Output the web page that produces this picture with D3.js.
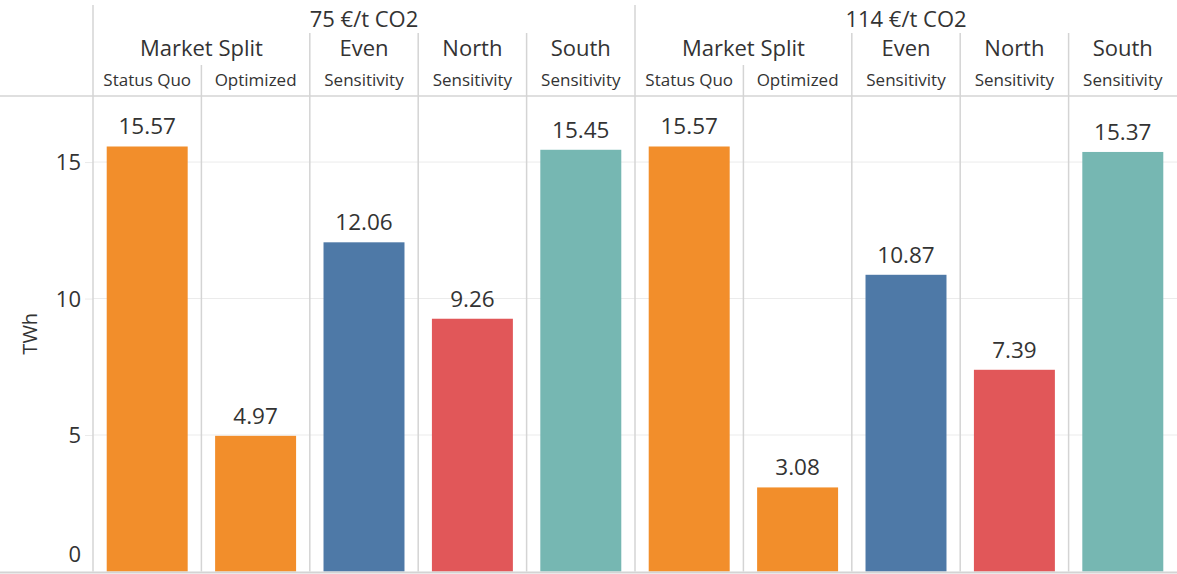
<!DOCTYPE html>
<html lang="en">
<head>
    <meta charset="UTF-8"/>
    <title>CO2 price scenarios</title>
    <script src="https://d3js.org/d3.v7.min.js" charset="utf-8"></script>
    <style type="text/css">
        body { margin: 0; background: #fff; }
        text { font-family: "Open Sans", sans-serif; fill: #333; }
        .grid line { stroke: #ebebeb; }
        .div-line { stroke: #d4d4d4; stroke-width: 1.5px; }
    </style>
</head>
<body>
<svg width="1177" height="574"></svg>
<script>
    // data
    const prices = ["75 €/t CO2", "114 €/t CO2"];
    const groups = ["Market Split", "Even", "North", "South"];
    const scenarios = ["Status Quo", "Optimized", "Sensitivity", "Sensitivity", "Sensitivity"];
    const scenarioGroup = [0, 0, 1, 2, 3];
    const values75 = [15.57, 4.97, 12.06, 9.26, 15.45];
    const values114 = [15.57, 3.08, 10.87, 7.39, 15.37];
    const yTicks = [0, 5, 10, 15];
    const colors = ["#f28e2b", "#f28e2b", "#4e79a7", "#e15759", "#76b7b2"];

    const rows = [];
    [values75, values114].forEach(function(vals, p) {
        vals.forEach(function(v, i) {
            rows.push({ key: p + "-" + i, price: p, idx: i, value: v });
        });
    });

    const svg = d3.select("svg"),
        plotLeft = 93, plotRight = 1177, plotTop = 96, plotBottom = 571.5;

    const x = d3.scaleBand()
        .domain(rows.map(d => d.key))
        .range([plotLeft, plotRight])
        .paddingInner(0.253)
        .paddingOuter(0.1265);
    const step = x.step();
    const cellX = k => x(k) - step * 0.1265;

    const y = d3.scaleLinear().domain([0, 17.42]).range([plotBottom, plotTop]);

    // gridlines
    svg.append("g").attr("class", "grid")
        .selectAll("line").data(yTicks.slice(1)).enter().append("line")
        .attr("x1", plotLeft).attr("x2", plotRight)
        .attr("y1", d => y(d)).attr("y2", d => y(d));

    // axis
    const axis = svg.append("g")
        .attr("transform", "translate(" + plotLeft + ",0)")
        .call(d3.axisLeft(y).tickValues(yTicks).tickSize(8).tickPadding(4));
    axis.select(".domain").remove();
    axis.selectAll(".tick line").attr("stroke", "#ebebeb");
    axis.selectAll(".tick text")
        .style("font-size", "22px").attr("fill", "#333")
        .attr("dy", d => d === 0 ? "-0.45em" : "0.35em");
    axis.selectAll(".tick").filter(d => d === 0).select("line").remove();

    svg.append("text")
        .attr("transform", "translate(30," + ((plotTop + plotBottom) / 2) + ") rotate(-90)")
        .attr("text-anchor", "middle").attr("dy", "0.35em")
        .style("font-size", "20px")
        .text("TWh");

    // column dividers in plot area
    svg.append("g").selectAll("line").data(rows.slice(1)).enter().append("line")
        .attr("class", "div-line")
        .attr("x1", d => cellX(d.key)).attr("x2", d => cellX(d.key))
        .attr("y1", plotTop).attr("y2", plotBottom);

    // bars
    svg.append("g").selectAll("rect").data(rows).enter().append("rect")
        .attr("x", d => x(d.key))
        .attr("width", x.bandwidth())
        .attr("y", d => y(d.value))
        .attr("height", d => y(0) - y(d.value))
        .attr("fill", d => colors[d.idx]);

    svg.append("g").selectAll("text").data(rows).enter().append("text")
        .attr("x", d => x(d.key) + x.bandwidth() / 2)
        .attr("y", d => y(d.value) - 12)
        .attr("text-anchor", "middle")
        .style("font-size", "22.5px")
        .text(d => d.value.toFixed(2));

    // header
    const header = svg.append("g");
    header.append("line").attr("class", "div-line")
        .attr("x1", 0).attr("x2", plotRight).attr("y1", plotTop).attr("y2", plotTop);
    header.append("line").attr("class", "div-line")
        .attr("x1", 0).attr("x2", plotRight).attr("y1", plotBottom + 1).attr("y2", plotBottom + 1)
        .style("stroke-width", "2px");
    header.append("line").attr("class", "div-line")
        .attr("x1", plotLeft).attr("x2", plotLeft).attr("y1", 5).attr("y2", plotBottom);

    prices.forEach(function(label, p) {
        const pStart = cellX(p + "-0");
        const pEnd = p === prices.length - 1 ? plotRight : cellX((p + 1) + "-0");
        if (p > 0) {
            header.append("line").attr("class", "div-line")
                .attr("x1", pStart).attr("x2", pStart).attr("y1", 5).attr("y2", plotTop);
        }
        header.append("text")
            .attr("x", (pStart + pEnd) / 2).attr("y", 27)
            .attr("text-anchor", "middle").style("font-size", "22px")
            .text(label);

        groups.forEach(function(g, gi) {
            const idxs = scenarioGroup.map((v, i) => v === gi ? i : -1).filter(i => i >= 0);
            const gStart = cellX(p + "-" + idxs[0]);
            const gEnd = gStart + step * idxs.length;
            if (gi > 0) {
                header.append("line").attr("class", "div-line")
                    .attr("x1", gStart).attr("x2", gStart).attr("y1", 33).attr("y2", plotTop);
            }
            header.append("text")
                .attr("x", (gStart + gEnd) / 2).attr("y", 56)
                .attr("text-anchor", "middle").style("font-size", "22px")
                .text(g);
            idxs.forEach(function(i, j) {
                const cs = cellX(p + "-" + i);
                if (j > 0) {
                    header.append("line").attr("class", "div-line")
                        .attr("x1", cs).attr("x2", cs).attr("y1", 65).attr("y2", plotTop);
                }
                header.append("text")
                    .attr("x", cs + step / 2).attr("y", 86)
                    .attr("text-anchor", "middle").style("font-size", "17px")
                    .text(scenarios[i]);
            });
        });
    });
</script>
</body>
</html>
